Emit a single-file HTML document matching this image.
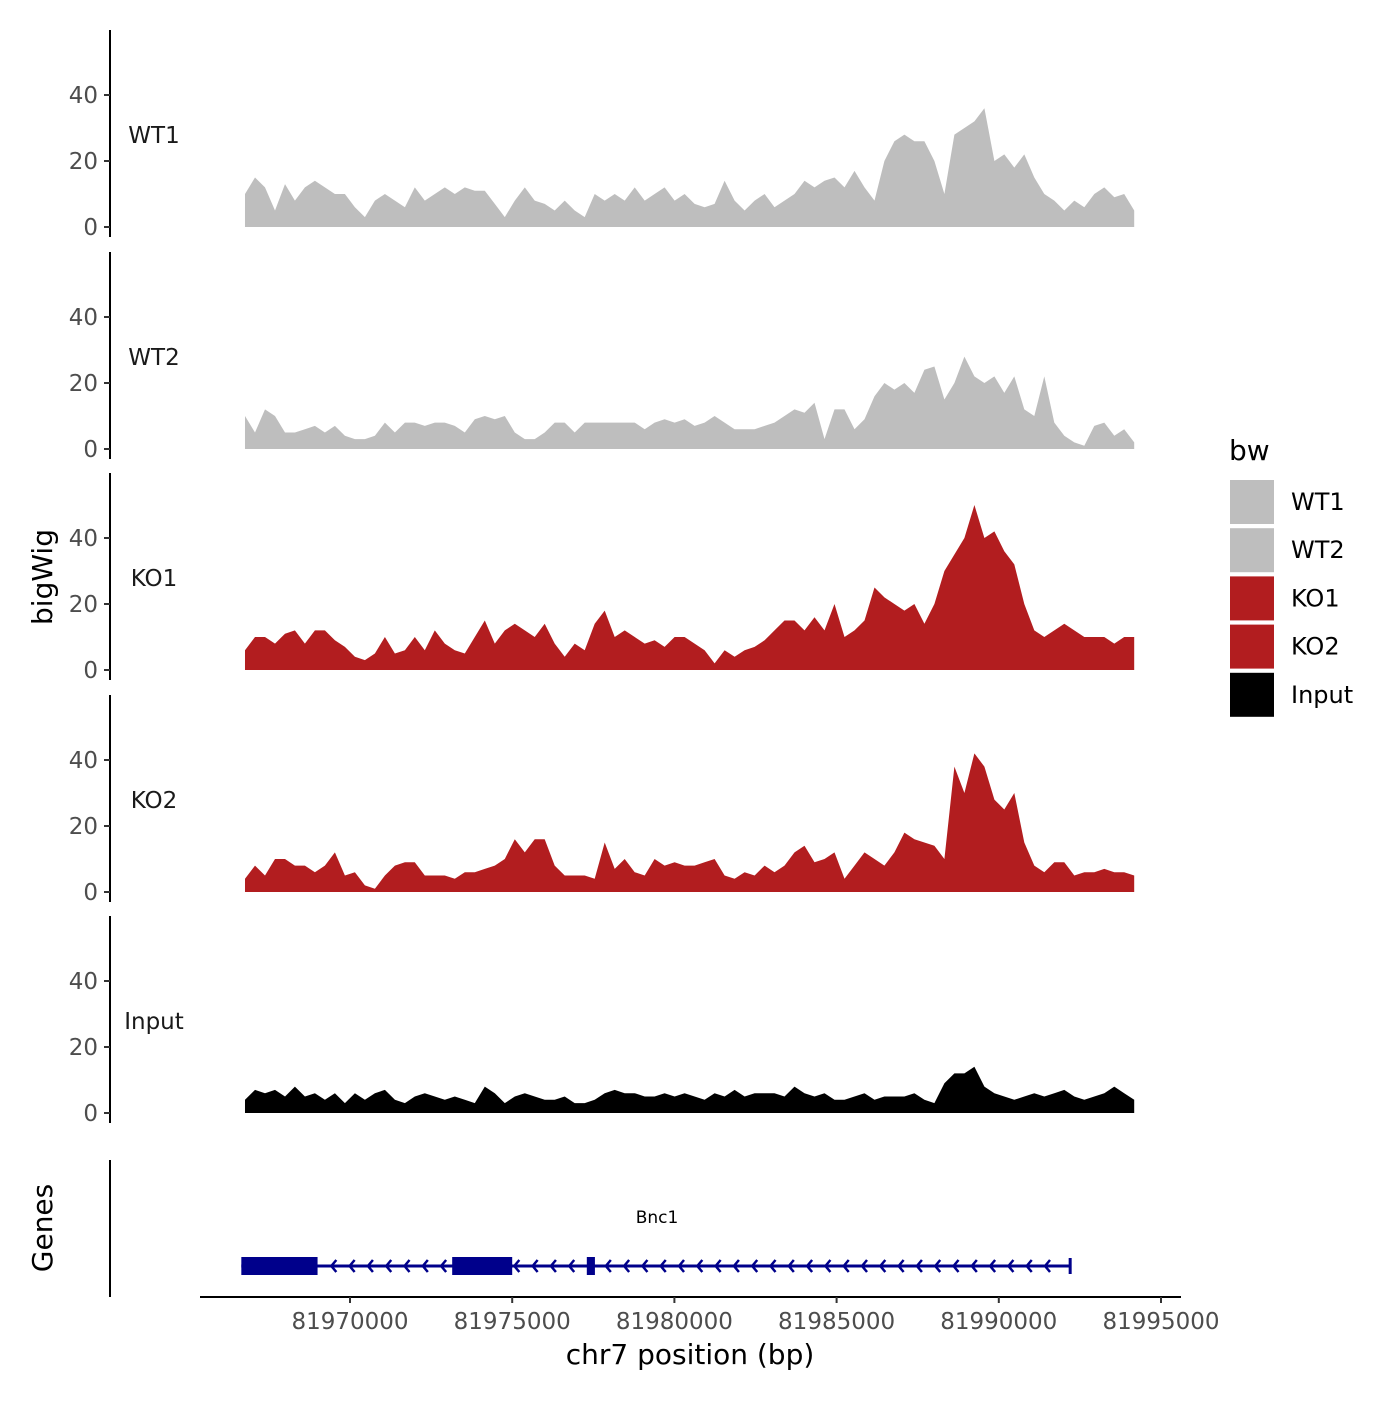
<!DOCTYPE html>
<html><head><meta charset="utf-8"><style>
html,body{margin:0;padding:0;background:#fff;}
svg text{font-family:"DejaVu Sans","Liberation Sans",sans-serif;}
</style></head><body>
<svg id="chart" width="1400" height="1400" viewBox="0 0 1400 1400" xmlns="http://www.w3.org/2000/svg">
<rect width="1400" height="1400" fill="#fff"/>
<g id="tracks"></g>
<g id="genes"></g>
<g id="xaxis"></g>
<text x="0" y="0" transform="translate(52,577) rotate(-90)" text-anchor="middle" font-size="28" fill="#000">bigWig</text>
<text x="0" y="0" transform="translate(52,1228) rotate(-90)" text-anchor="middle" font-size="28" fill="#000">Genes</text>
<text x="690" y="1364" text-anchor="middle" font-size="28" fill="#000">chr7 position (bp)</text>
<g id="legend"></g>
</svg>
<script>
const trackNames = ["WT1","WT2","KO1","KO2","Input"];
const trackColors = ["#bebebe","#bebebe","#b21d1f","#b21d1f","#000000"];
const startBp = 81966763;
const stepBp = 308;
const wt1 = [10,15,12,5,13,8,12,14,12,10,10,6,3,8,10,8,6,12,8,10,12,10,12,11,11,7,3,8,12,8,7,5,8,5,3,10,8,10,8,12,8,10,12,8,10,7,6,7,14,8,5,8,10,6,8,10,14,12,14,15,12,17,12,8,20,26,28,26,26,20,10,28,30,32,36,20,22,18,22,15,10,8,5,8,6,10,12,9,10,5];
const wt2 = [10,5,12,10,5,5,6,7,5,7,4,3,3,4,8,5,8,8,7,8,8,7,5,9,10,9,10,5,3,3,5,8,8,5,8,8,8,8,8,8,6,8,9,8,9,7,8,10,8,6,6,6,7,8,10,12,11,14,3,12,12,6,9,16,20,18,20,17,24,25,15,20,28,22,20,22,17,22,12,10,22,8,4,2,1,7,8,4,6,2];
const ko1 = [6,10,10,8,11,12,8,12,12,9,7,4,3,5,10,5,6,10,6,12,8,6,5,10,15,8,12,14,12,10,14,8,4,8,6,14,18,10,12,10,8,9,7,10,10,8,6,2,6,4,6,7,9,12,15,15,12,16,12,20,10,12,15,25,22,20,18,20,14,20,30,35,40,50,40,42,36,32,20,12,10,12,14,12,10,10,10,8,10,10];
const ko2 = [4,8,5,10,10,8,8,6,8,12,5,6,2,1,5,8,9,9,5,5,5,4,6,6,7,8,10,16,12,16,16,8,5,5,5,4,15,7,10,6,5,10,8,9,8,8,9,10,5,4,6,5,8,6,8,12,14,9,10,12,4,8,12,10,8,12,18,16,15,14,10,38,30,42,38,28,25,30,15,8,6,9,9,5,6,6,7,6,6,5];
const input = [4,7,6,7,5,8,5,6,4,6,3,6,4,6,7,4,3,5,6,5,4,5,4,3,8,6,3,5,6,5,4,4,5,3,3,4,6,7,6,6,5,5,6,5,6,5,4,6,5,7,5,6,6,6,5,8,6,5,6,4,4,5,6,4,5,5,5,6,4,3,9,12,12,14,8,6,5,4,5,6,5,6,7,5,4,5,6,8,6,4];
const yTicks = [0,20,40];
const xTicks = [81970000,81975000,81980000,81985000,81990000,81995000];
const geneExons = [[81966650,81969000],[81973150,81975000],[81977300,81977550]];
const geneStartBp = 81966650;
const geneEndBp = 81992200;
const geneName = "Bnc1";

const NS = "http://www.w3.org/2000/svg";
function mk(tag, attrs, parent){const e=document.createElementNS(NS,tag);for(const k in attrs)e.setAttribute(k,attrs[k]);parent.appendChild(e);return e;}
function x(bp){return 350 + (bp-81970000)*162.2/5000;}
const panelZero = [227,449,670,892,1113];
const unitPx = 3.3;
const allData = [wt1,wt2,ko1,ko2,input];
const tracks = document.getElementById('tracks');
allData.forEach((vals,t)=>{
  const g = mk('g',{},tracks);
  
  
  const z = panelZero[t];
  const y = v => z - v*unitPx;
  let d = 'M'+x(startBp)+','+z;
  vals.forEach((v,i)=>{ d += ' L'+x(startBp+i*stepBp).toFixed(1)+','+y(v).toFixed(1); });
  d += ' L'+x(startBp+(vals.length-1)*stepBp).toFixed(1)+','+z+' Z';
  const p = mk('path',{d:d,fill:trackColors[t]},g);
  
  
  const ax = mk('line',{x1:110,x2:110,y1:z-197,y2:z+10,stroke:'#000','stroke-width':2},g);
  
  
  yTicks.forEach(tv=>{
    mk('line',{x1:104,x2:110,y1:y(tv),y2:y(tv),stroke:'#333','stroke-width':2},g);
    const tl = mk('text',{x:98,y:y(tv)+8,'text-anchor':'end','font-size':23,fill:'#4d4d4d'},g);
    
    
    tl.textContent = tv;
  });
  const lab = mk('text',{x:154,y:z-84,'text-anchor':'middle','font-size':23,fill:'#1a1a1a'},g);
  
  
  lab.textContent = trackNames[t];
});
// genes
const gg = document.getElementById('genes');
mk('line',{x1:110,x2:110,y1:1160,y2:1297,stroke:'#000','stroke-width':2},gg);
const gy = 1266;
mk('line',{x1:x(geneStartBp),x2:x(geneEndBp),y1:gy,y2:gy,stroke:'#00008b','stroke-width':3},gg);
for(let ax=x(geneStartBp)+90; ax<x(geneEndBp)-8; ax+=18.3){
  const ar = mk('path',{d:`M${ax+5},${gy-6} L${ax},${gy} L${ax+5},${gy+6}`,stroke:'#00008b','stroke-width':2.5,fill:'none'},gg);
  
  
}
geneExons.forEach(e=>{
  const r = mk('rect',{x:x(e[0]),y:gy-9,width:x(e[1])-x(e[0]),height:18,fill:'#00008b'},gg);
  
  
});
mk('line',{x1:x(geneEndBp),x2:x(geneEndBp),y1:gy-8,y2:gy+8,stroke:'#00008b','stroke-width':3},gg);
const gn = mk('text',{x:657,y:1223,'text-anchor':'middle','font-size':17,fill:'#000'},gg);


gn.textContent = geneName;
// x axis
const xa = document.getElementById('xaxis');
mk('line',{x1:200,x2:1181,y1:1297,y2:1297,stroke:'#000','stroke-width':2},xa);
xTicks.forEach(tv=>{
  mk('line',{x1:x(tv),x2:x(tv),y1:1297,y2:1303,stroke:'#333','stroke-width':2},xa);
  const tl = mk('text',{x:x(tv),y:1329,'text-anchor':'middle','font-size':23,fill:'#4d4d4d'},xa);
  
  
  tl.textContent = tv;
});
// legend
const lg = document.getElementById('legend');
const lt = mk('text',{x:1229,y:460,'font-size':28,fill:'#000'},lg);


lt.textContent = 'bw';
trackNames.forEach((n,i)=>{
  const yy = 480 + i*48.2;
  const sw = mk('rect',{x:1230,y:yy,width:44,height:44,fill:trackColors[i]},lg);
  
  
  const tx = mk('text',{x:1291,y:yy+30,'font-size':24,fill:'#000'},lg);
  
  
  tx.textContent = n;
});
</script>
</body></html>
